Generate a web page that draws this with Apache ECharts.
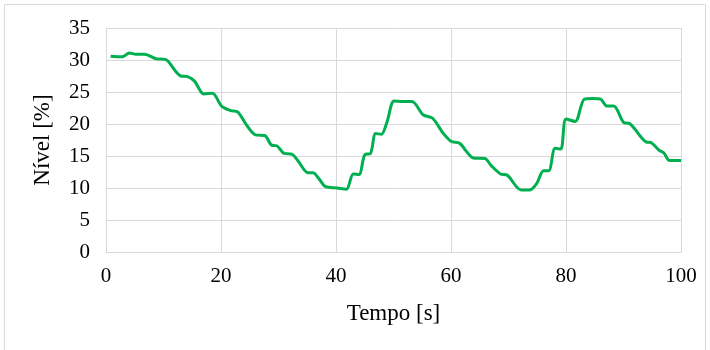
<!DOCTYPE html>
<html>
<head>
<meta charset="utf-8">
<script src="https://cdn.jsdelivr.net/npm/echarts@6/dist/echarts.min.js"></script>
<style>
  html, body { margin: 0; padding: 0; background: #fff; }
  #chart { width: 710px; height: 350px; }
</style>
</head>
<body>
<div id="chart"></div>
<script>
// tempo [s] and nível [%]
const tempo = [0.8, 2.8, 4.1, 5.2, 6.7, 8.7, 10.3, 10.8, 13, 14.2, 15.4, 17, 18.5, 20.1, 21.7, 22.9,
  24.4, 26, 27.6, 28.8, 29.7, 31, 32.3, 33.5, 35.1, 36, 37, 38.2, 40.2, 41.8, 43, 44, 45, 46,
  46.9, 47.9, 48.9, 50.1, 51.7, 53.2, 55.2, 56.8, 58.6, 60, 61.5, 63.9, 65.9, 67, 68.6, 69.8,
  72.2, 73.7, 74.9, 76.1, 77, 78.1, 79.1, 80, 81.6, 83.2, 84.8, 86, 87.1, 88.3, 90.1, 91,
  93.9, 94.8, 96.2, 97, 98, 100];
const nivel = [30.6, 30.5, 31.1, 30.9, 30.9, 30.2, 30.1, 29.8, 27.5, 27.4, 26.7, 24.7, 24.8, 22.8, 22.1, 21.9,
  19.9, 18.3, 18.2, 16.7, 16.6, 15.4, 15.3, 14.1, 12.4, 12.4, 11.5, 10.2, 10.0, 9.8, 12.2, 12.1, 15.2, 15.4,
  18.5, 18.4, 20.4, 23.6, 23.5, 23.5, 21.4, 20.9, 18.6, 17.3, 17.0, 14.7, 14.6, 13.5, 12.2, 12.0,
  9.7, 9.7, 10.7, 12.7, 12.7, 16.2, 16.1, 20.8, 20.4, 23.9, 24.0, 23.9, 22.8, 22.8, 20.2, 20.1,
  17.2, 17.1, 15.9, 15.5, 14.3, 14.3];

const xTicks = { min: 0, max: 100, interval: 20 };
const yTicks = { min: 0, max: 35, interval: 5 };

const points = tempo.map((t, i) => [t, nivel[i]]);

const myChart = echarts.init(document.getElementById('chart'));
const font = '"Liberation Serif", "Times New Roman", serif';

const option = {
  animation: false,
  backgroundColor: '#fff',
  textStyle: { fontFamily: font },
  graphic: [{
    type: 'rect',
    shape: { x: 4.5, y: 4.5, width: 701, height: 350 },
    style: { fill: 'none', stroke: '#d9d9d9', lineWidth: 1 },
    silent: true
  }],
  grid: { left: 106, right: 29, top: 28, bottom: 98 },
  xAxis: {
    type: 'value',
    min: xTicks.min, max: xTicks.max, interval: xTicks.interval,
    name: 'Tempo [s]',
    nameLocation: 'middle',
    nameGap: 50,
    nameTextStyle: { fontFamily: font, fontSize: 23, color: '#000' },
    axisLine: { show: true, lineStyle: { color: '#d9d9d9', width: 1 } },
    axisTick: { show: false },
    axisLabel: { fontFamily: font, fontSize: 21, color: '#000', margin: 14 },
    splitLine: { show: true, lineStyle: { color: '#d9d9d9', width: 1 } }
  },
  yAxis: {
    type: 'value',
    min: yTicks.min, max: yTicks.max, interval: yTicks.interval,
    name: 'Nível [%]',
    nameLocation: 'middle',
    nameGap: 52,
    nameTextStyle: { fontFamily: font, fontSize: 23, color: '#000' },
    axisLine: { show: true, lineStyle: { color: '#d9d9d9', width: 1 } },
    axisTick: { show: false },
    axisLabel: { fontFamily: font, fontSize: 21, color: '#000', margin: 16 },
    splitLine: { show: true, lineStyle: { color: '#d9d9d9', width: 1 } }
  },
  series: [{
    type: 'line',
    data: points,
    smooth: 0.3,
    showSymbol: false,
    lineStyle: { color: '#00b050', width: 3 }
  }]
};

myChart.setOption(option);
</script>
</body>
</html>
